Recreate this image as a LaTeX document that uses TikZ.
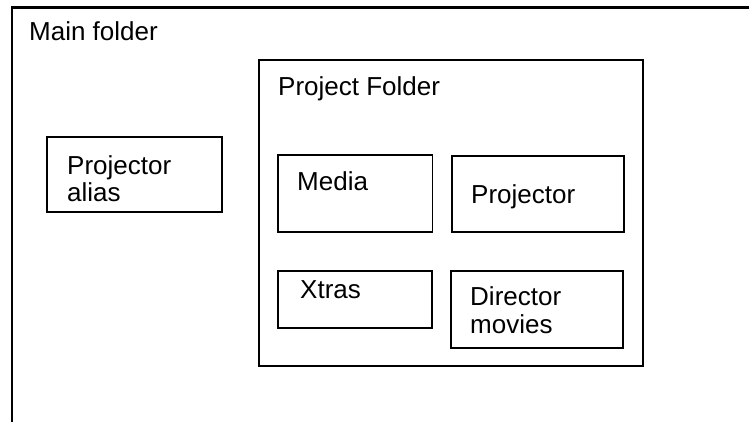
\documentclass[tikz,border=0pt]{standalone}
\usepackage{fontspec}
\setmainfont{Liberation Sans}
\begin{document}
\begin{tikzpicture}[x=1pt,y=-1pt,
  box/.style 2 args={draw, line width=1.8pt, inner sep=0pt,
    minimum width=#1pt, minimum height=#2pt},
  lbl/.style={anchor=base west, inner sep=0pt, align=left,
    font=\fontsize{26}{27.5}\selectfont}]
  \useasboundingbox (0,0) rectangle (749,421);
  \begin{scope}
    \clip (0,0) rectangle (749,421);
    % main folder frame, running off the right and bottom edges
    \node[draw, line width=2.8pt, inner sep=0pt, anchor=north west,
          minimum width=800pt, minimum height=460pt] (main) at (10.5,6) {};
  \end{scope}
  \node[lbl] (mainT) at (29,40) {Main folder};

  \node[box={175}{75}] (alias) at (134.5,174.5) {};
  \node[lbl] (aliasT) at (67,201.5) {Projector\\alias};

  \node[box={384}{306}] (project) at (451,213) {};
  \node[lbl] (projectT) at (278,95) {Project Folder};

  \node[box={154.5}{76.7}] (media) at (355.3,193.4) {};
  \node[lbl] (mediaT) at (297,190) {Media};

  \node[box={172.3}{76}] (proj) at (537.8,193.7) {};
  \node[lbl] (projT) at (471,203) {Projector};

  \node[box={153.4}{57}] (xtras) at (355,299.2) {};
  \node[lbl] (xtrasT) at (300,298) {Xtras};

  \node[box={172.3}{77}] (dir) at (537.2,309.2) {};
  \node[lbl] (dirT) at (470,333) {Director\\movies};
\end{tikzpicture}
\end{document}
